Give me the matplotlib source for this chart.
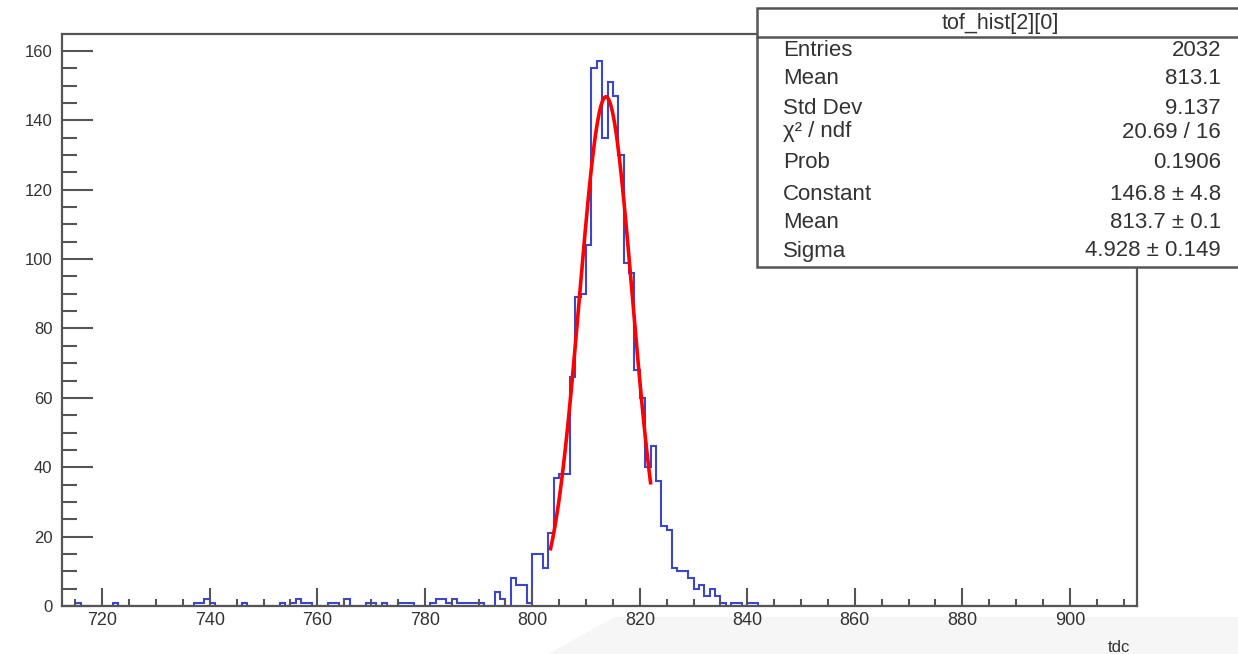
import numpy as np
import matplotlib
matplotlib.use("Agg")
import matplotlib.pyplot as plt
from matplotlib.patches import Rectangle, Polygon
from matplotlib.lines import Line2D
from matplotlib.ticker import MultipleLocator

plt.rcParams["font.family"] = ["Liberation Sans", "DejaVu Sans"]

# histogram tof_hist[2][0], bins of width 1 (left edge given)
HIST_RANGE = (712, 912)
LOW_TAIL_BINS = [715, 722, 737, 738, 739, 740, 746, 753, 755, 756, 757, 758,
                 762, 763, 765, 769, 770, 772, 775, 776, 777, 781, 782, 783,
                 784, 785, 786, 787, 788, 789, 790, 793, 794, 796, 797, 798,
                 799]
LOW_TAIL_COUNTS = [1, 1, 1, 1, 2, 1, 1, 1, 1, 2, 1, 1,
                   1, 1, 2, 1, 1, 1, 1, 1, 1, 1, 2, 2,
                   1, 2, 1, 1, 1, 1, 1, 4, 2, 8, 6, 6,
                   1]
PEAK_FIRST_BIN = 800
PEAK_COUNTS = [15, 15, 11, 21, 37, 38, 38, 66, 89, 90, 104, 155, 157, 135,
               151, 147, 130, 99, 96, 68, 60, 40, 46, 36, 23, 22, 11, 10,
               10, 8, 5, 6, 3, 5, 3, 1]
HIGH_TAIL_BINS = [837, 838, 840, 841]
HIGH_TAIL_COUNTS = [1, 1, 1, 1]

# gaussian fit
FIT_CONSTANT = 146.8
FIT_MEAN = 813.7
FIT_SIGMA = 4.928
FIT_RANGE = (803.4, 822.0)

BOX_TITLE = "tof_hist[2][0]"
STAT_LABELS = ["Entries", "Mean", "Std Dev", "χ² / ndf", "Prob",
               "Constant", "Mean", "Sigma"]
STAT_VALUES = ["2032", "813.1", "9.137", "20.69 / 16", "0.1906",
               "146.8 ± 4.8", "813.7 ± 0.1", "4.928 ± 0.149"]
STAT_ROWS_PX = [50, 79, 108, 132, 163, 195, 222, 251]

W, H = 1238, 654
FRAME = "#555555"
TEXT = "#333333"


def px(x, y):
    """ pixel position -> figure fraction """
    return x / W, 1. - y / H


edges = np.arange(HIST_RANGE[0], HIST_RANGE[1] + 1)
counts = np.zeros(len(edges) - 1)
for b, c in zip(LOW_TAIL_BINS, LOW_TAIL_COUNTS):
    counts[b - HIST_RANGE[0]] = c
for i, c in enumerate(PEAK_COUNTS):
    counts[PEAK_FIRST_BIN + i - HIST_RANGE[0]] = c
for b, c in zip(HIGH_TAIL_BINS, HIGH_TAIL_COUNTS):
    counts[b - HIST_RANGE[0]] = c

fig = plt.figure(figsize=(W / 100., H / 100.), dpi=100, facecolor="white")

# light grey screenshot background at the bottom right
fig.add_artist(Polygon([px(548, 654), px(615, 617), px(1238, 617),
                        px(1238, 654)], closed=True, transform=fig.transFigure,
                       facecolor="#f6f6f6", edgecolor="none", zorder=-1))

left, top = px(62, 34)
right, bottom = px(1137, 606)
ax = fig.add_axes([left, bottom, right - left, top - bottom])
ax.set_xlim(712.5, 912.5)
ax.set_ylim(0, 164.9)

ax.stairs(counts, edges, baseline=None, color="#3c46c8", linewidth=1.5)
fx = np.linspace(FIT_RANGE[0], FIT_RANGE[1], 200)
fy = FIT_CONSTANT * np.exp(-0.5 * ((fx - FIT_MEAN) / FIT_SIGMA) ** 2)
ax.plot(fx, fy, color="#ff0000", linewidth=2.6)

for side in ["left", "right", "top", "bottom"]:
    ax.spines[side].set_color(FRAME)
    ax.spines[side].set_linewidth(1.6)

ax.xaxis.set_major_locator(MultipleLocator(20))
ax.xaxis.set_minor_locator(MultipleLocator(5))
ax.yaxis.set_major_locator(MultipleLocator(20))
ax.yaxis.set_minor_locator(MultipleLocator(5))
ax.tick_params(axis="x", which="major", direction="in", length=13, width=1.5,
               color=FRAME, labelsize=13, labelcolor=TEXT, pad=4,
               top=False)
ax.tick_params(axis="x", which="minor", direction="in", length=5, width=1.5,
               color=FRAME, top=False)
ax.tick_params(axis="y", which="major", direction="in", length=22, width=1.5,
               color=FRAME, labelsize=12, labelcolor=TEXT, pad=7,
               right=False)
ax.tick_params(axis="y", which="minor", direction="in", length=11, width=1.5,
               color=FRAME, right=False)

fig.text(*px(1130, 647), "tdc", ha="right", va="center", fontsize=12,
         color=TEXT)

# statistics box
bx0, by0 = px(757, 267)
bx1, by1 = px(1260, 8)
fig.add_artist(Rectangle((bx0, by0), bx1 - bx0, by1 - by0,
                         transform=fig.transFigure, facecolor="white",
                         edgecolor=FRAME, linewidth=1.8, zorder=5))
sx0, sy = px(757, 37)
fig.add_artist(Line2D([sx0, 1.0], [sy, sy], transform=fig.transFigure,
                      color=FRAME, linewidth=1.8, zorder=6))
fig.text(*px(1000, 23), BOX_TITLE, ha="center", va="center", fontsize=15.5,
         color=TEXT, zorder=7)
for label, value, row in zip(STAT_LABELS, STAT_VALUES, STAT_ROWS_PX):
    fig.text(*px(783, row), label, ha="left", va="center", fontsize=16,
             color=TEXT, zorder=7)
    fig.text(*px(1221, row), value, ha="right", va="center", fontsize=16,
             color=TEXT, zorder=7)

fig.savefig("out.png", dpi=100, facecolor="white")
